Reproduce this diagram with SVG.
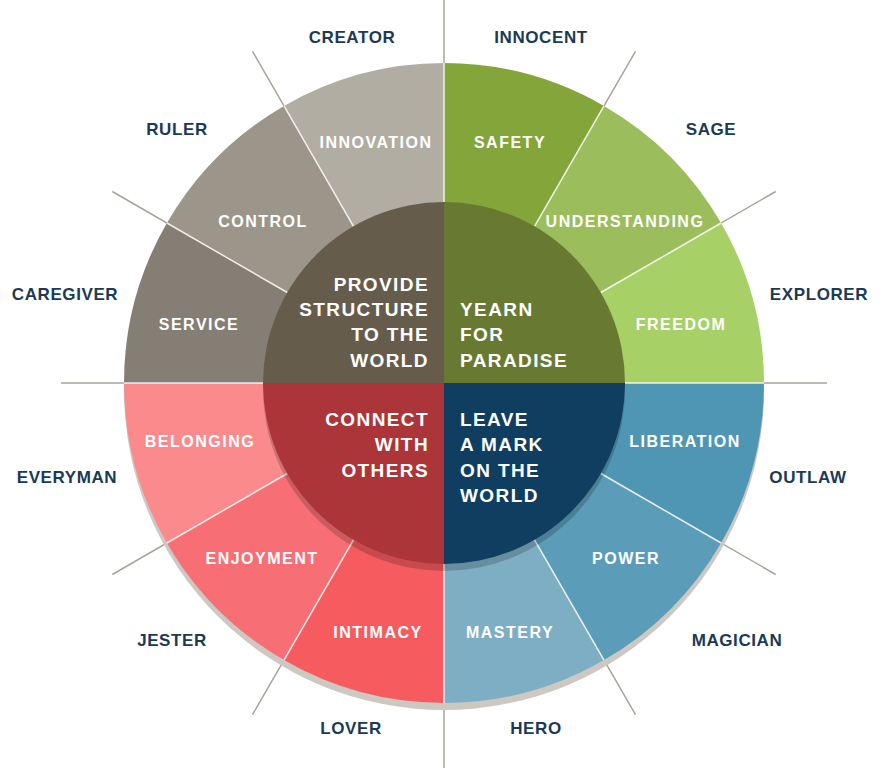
<svg xmlns="http://www.w3.org/2000/svg" width="890" height="768" viewBox="0 0 890 768">
<style>
.outer{font-family:"Liberation Sans",Arial,sans-serif;font-weight:bold;font-size:17px;fill:#1b3a54;text-anchor:middle;letter-spacing:0.6px}
.seg{font-family:"Liberation Sans",Arial,sans-serif;font-weight:bold;font-size:16px;fill:#ffffff;text-anchor:middle;letter-spacing:1.5px}
.core{font-family:"Liberation Sans",Arial,sans-serif;font-weight:bold;font-size:19px;fill:#ffffff;letter-spacing:1.4px}
.gl{stroke:#aaa39a;stroke-width:1.5;fill:none}
.wl{stroke:#ffffff;stroke-width:1.5;fill:none;opacity:0.85}
</style>
<rect width="890" height="768" fill="#ffffff"/>
<g id="connectors-back">
<line class="gl" x1="444" y1="0" x2="444" y2="768"/>
<line class="gl" x1="61" y1="383" x2="827" y2="383"/>
<line class="gl" x1="444" y1="383" x2="635.5" y2="51.3"/>
<line class="gl" x1="444" y1="383" x2="775.7" y2="191.5"/>
<line class="gl" x1="444" y1="383" x2="775.7" y2="574.5"/>
<line class="gl" x1="444" y1="383" x2="635.5" y2="714.7"/>
<line class="gl" x1="444" y1="383" x2="252.5" y2="714.7"/>
<line class="gl" x1="444" y1="383" x2="112.3" y2="574.5"/>
<line class="gl" x1="444" y1="383" x2="112.3" y2="191.5"/>
<line class="gl" x1="444" y1="383" x2="252.5" y2="51.3"/>
</g>
<path id="outer-shadow" d="M124 383 L124 390 A320 320 0 0 0 764 390 L764 383 Z" fill="#cdc8c1"/>
<g id="innocent">
<path d="M444 383 L444 63 A320 320 0 0 1 604 105.9 Z" fill="#84a53a"/>
<text class="seg" x="510" y="148">SAFETY</text>
<text class="outer" x="541" y="43">INNOCENT</text>
</g>
<g id="sage">
<path d="M444 383 L604 105.9 A320 320 0 0 1 721.1 223 Z" fill="#9cbd5c"/>
<text class="seg" x="625" y="227">UNDERSTANDING</text>
<text class="outer" x="711" y="135">SAGE</text>
</g>
<g id="explorer">
<path d="M444 383 L721.1 223 A320 320 0 0 1 764 383 Z" fill="#a7d166"/>
<text class="seg" x="681" y="330">FREEDOM</text>
<text class="outer" x="819" y="300">EXPLORER</text>
</g>
<g id="outlaw">
<path d="M444 383 L764 383 A320 320 0 0 1 721.1 543 Z" fill="#4f96b4"/>
<text class="seg" x="685" y="447">LIBERATION</text>
<text class="outer" x="808" y="483">OUTLAW</text>
</g>
<g id="magician">
<path d="M444 383 L721.1 543 A320 320 0 0 1 604 660.1 Z" fill="#5b9db8"/>
<text class="seg" x="626" y="564">POWER</text>
<text class="outer" x="737" y="646">MAGICIAN</text>
</g>
<g id="hero">
<path d="M444 383 L604 660.1 A320 320 0 0 1 444 703 Z" fill="#7eaec3"/>
<text class="seg" x="510" y="638">MASTERY</text>
<text class="outer" x="536" y="734">HERO</text>
</g>
<g id="lover">
<path d="M444 383 L444 703 A320 320 0 0 1 284 660.1 Z" fill="#f65b60"/>
<text class="seg" x="378" y="638">INTIMACY</text>
<text class="outer" x="351" y="734">LOVER</text>
</g>
<g id="jester">
<path d="M444 383 L284 660.1 A320 320 0 0 1 166.9 543 Z" fill="#f76f74"/>
<text class="seg" x="262" y="564">ENJOYMENT</text>
<text class="outer" x="172" y="646">JESTER</text>
</g>
<g id="everyman">
<path d="M444 383 L166.9 543 A320 320 0 0 1 124 383 Z" fill="#fa8a8b"/>
<text class="seg" x="200" y="447">BELONGING</text>
<text class="outer" x="67" y="483">EVERYMAN</text>
</g>
<g id="caregiver">
<path d="M444 383 L124 383 A320 320 0 0 1 166.9 223 Z" fill="#857e74"/>
<text class="seg" x="199" y="330">SERVICE</text>
<text class="outer" x="65" y="300">CAREGIVER</text>
</g>
<g id="ruler">
<path d="M444 383 L166.9 223 A320 320 0 0 1 284 105.9 Z" fill="#9b958a"/>
<text class="seg" x="263" y="227">CONTROL</text>
<text class="outer" x="177" y="135">RULER</text>
</g>
<g id="creator">
<path d="M444 383 L284 105.9 A320 320 0 0 1 444 63 Z" fill="#b2ada3"/>
<text class="seg" x="376" y="148">INNOVATION</text>
<text class="outer" x="352" y="43">CREATOR</text>
</g>
<g id="connectors-ring">
<line class="wl" x1="444" y1="202" x2="444" y2="63"/>
<line class="wl" x1="534.5" y1="226.3" x2="604" y2="105.9"/>
<line class="wl" x1="600.8" y1="292.5" x2="721.1" y2="223"/>
<line class="wl" x1="625" y1="383" x2="764" y2="383"/>
<line class="wl" x1="600.8" y1="473.5" x2="721.1" y2="543"/>
<line class="wl" x1="534.5" y1="539.8" x2="604" y2="660.1"/>
<line class="wl" x1="444" y1="564" x2="444" y2="703"/>
<line class="wl" x1="353.5" y1="539.8" x2="284" y2="660.1"/>
<line class="wl" x1="287.3" y1="473.5" x2="166.9" y2="543"/>
<line class="wl" x1="263" y1="383" x2="124" y2="383"/>
<line class="wl" x1="287.3" y1="292.5" x2="166.9" y2="223"/>
<line class="wl" x1="353.5" y1="226.3" x2="284" y2="105.9"/>
</g>
<path id="inner-shadow" d="M263 383 L263 390 A181 181 0 0 0 625 390 L625 383 Z" fill="#000000" opacity="0.18"/>
<g id="provide-structure">
<path d="M444 383 L263 383 A181 181 0 0 1 444 202 Z" fill="#665c4b"/>
<text class="core" text-anchor="end" x="429" y="291">PROVIDE</text>
<text class="core" text-anchor="end" x="429" y="316">STRUCTURE</text>
<text class="core" text-anchor="end" x="429" y="341">TO THE</text>
<text class="core" text-anchor="end" x="429" y="367">WORLD</text>
</g>
<g id="yearn-paradise">
<path d="M444 383 L444 202 A181 181 0 0 1 625 383 Z" fill="#687a32"/>
<text class="core" x="460" y="316">YEARN</text>
<text class="core" x="460" y="341">FOR</text>
<text class="core" x="460" y="367">PARADISE</text>
</g>
<g id="leave-mark">
<path d="M444 383 L625 383 A181 181 0 0 1 444 564 Z" fill="#0f3e60"/>
<text class="core" x="460" y="426">LEAVE</text>
<text class="core" x="460" y="451">A MARK</text>
<text class="core" x="460" y="477">ON THE</text>
<text class="core" x="460" y="502">WORLD</text>
</g>
<g id="connect-others">
<path d="M444 383 L444 564 A181 181 0 0 1 263 383 Z" fill="#ab3539"/>
<text class="core" text-anchor="end" x="429" y="426">CONNECT</text>
<text class="core" text-anchor="end" x="429" y="451">WITH</text>
<text class="core" text-anchor="end" x="429" y="477">OTHERS</text>
</g>
</svg>
